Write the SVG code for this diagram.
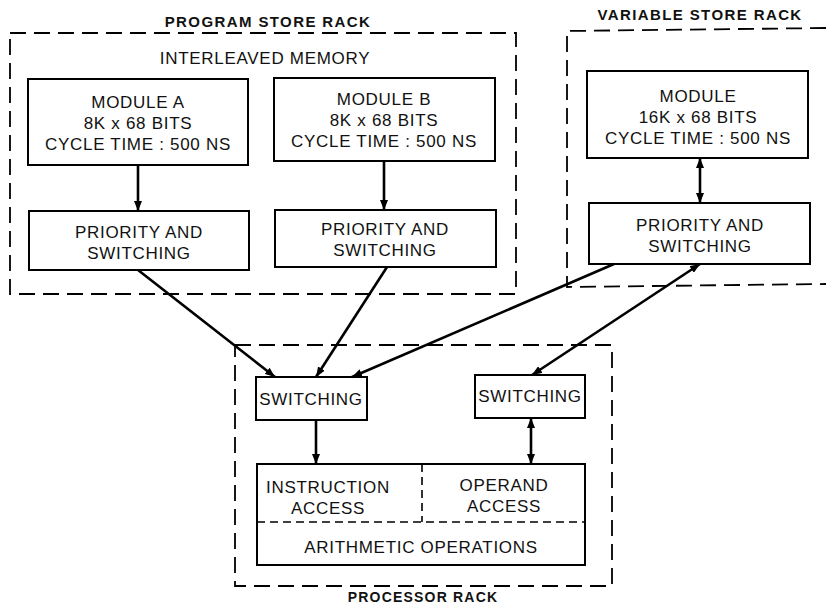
<svg xmlns="http://www.w3.org/2000/svg" width="826" height="605" viewBox="0 0 826 605">
<defs>
<marker id="ah" viewBox="0 0 10 8" refX="10" refY="4" markerWidth="10" markerHeight="8" markerUnits="userSpaceOnUse" orient="auto-start-reverse">
<path d="M0,0 L10,4 L0,8 Z" fill="#000"/>
</marker>
<style>
.rack{fill:none;stroke:#000;stroke-width:1.8;stroke-dasharray:16,8}
.box{fill:#fff;stroke:#000;stroke-width:2}
.t{font-family:"Liberation Sans",Arial,sans-serif;font-size:17px;letter-spacing:0.7px;text-anchor:middle;fill:#111}
.h{font-family:"Liberation Sans",Arial,sans-serif;font-size:15px;font-weight:bold;letter-spacing:1.4px;text-anchor:middle;fill:#111}
.c{fill:none;stroke:#000;stroke-width:2.6}
.div{fill:none;stroke:#000;stroke-width:1.6;stroke-dasharray:8,5}
</style>
</defs>
<rect width="826" height="605" fill="#fff"/>

<g id="program-store-rack">
<rect class="rack" x="10" y="33" width="506" height="261"/>
<text class="h" x="268" y="27">PROGRAM STORE RACK</text>
<text class="t" x="265" y="64">INTERLEAVED MEMORY</text>
</g>
<g id="module-a">
<rect class="box" x="28" y="79" width="220" height="86"/>
<text class="t" x="138" y="108">MODULE A</text>
<text class="t" x="138" y="129">8K x 68 BITS</text>
<text class="t" x="138" y="150">CYCLE TIME : 500 NS</text>
</g>
<g id="module-b">
<rect class="box" x="274" y="78" width="221" height="83"/>
<text class="t" x="384" y="105">MODULE B</text>
<text class="t" x="384" y="126">8K x 68 BITS</text>
<text class="t" x="384" y="147">CYCLE TIME : 500 NS</text>
</g>
<g id="priority-a">
<rect class="box" x="29" y="211" width="220" height="59"/>
<text class="t" x="139" y="238">PRIORITY AND</text>
<text class="t" x="139" y="259">SWITCHING</text>
</g>
<g id="priority-b">
<rect class="box" x="275" y="210" width="221" height="57"/>
<text class="t" x="385" y="235">PRIORITY AND</text>
<text class="t" x="385" y="256">SWITCHING</text>
</g>

<g id="variable-store-rack">
<path class="rack" d="M826,28 L567,31 L567,287 L826,284"/>
<text class="h" x="700" y="20">VARIABLE STORE RACK</text>
</g>
<g id="module-v">
<rect class="box" x="587" y="71" width="221" height="87"/>
<text class="t" x="698" y="102">MODULE</text>
<text class="t" x="698" y="123">16K x 68 BITS</text>
<text class="t" x="698" y="144">CYCLE TIME : 500 NS</text>
</g>
<g id="priority-v">
<rect class="box" x="589" y="203" width="221" height="61"/>
<text class="t" x="700" y="231">PRIORITY AND</text>
<text class="t" x="700" y="252">SWITCHING</text>
</g>

<g id="processor-rack">
<rect class="rack" x="235" y="345" width="377" height="241"/>
<text class="h" x="423" y="602" style="font-size:14px;letter-spacing:1.2px">PROCESSOR RACK</text>
</g>
<g id="switching-left">
<rect class="box" x="256" y="377" width="111" height="43"/>
<text class="t" x="311" y="405">SWITCHING</text>
</g>
<g id="switching-right">
<rect class="box" x="475" y="375" width="110" height="43"/>
<text class="t" x="530" y="402">SWITCHING</text>
</g>
<g id="processor">
<rect class="box" x="257" y="464" width="328" height="101"/>
<path class="div" d="M422,464 L422,522 M257,522 L585,522"/>
<text class="t" x="328" y="493">INSTRUCTION</text>
<text class="t" x="328" y="514">ACCESS</text>
<text class="t" x="504" y="491">OPERAND</text>
<text class="t" x="504" y="512">ACCESS</text>
<text class="t" x="421" y="553">ARITHMETIC OPERATIONS</text>
</g>

<g id="connectors">
<path class="c" d="M138,165 L138,211" marker-end="url(#ah)"/>
<path class="c" d="M384,161 L384,210" marker-end="url(#ah)"/>
<path class="c" d="M700,158 L700,203" marker-start="url(#ah)" marker-end="url(#ah)"/>
<path class="c" d="M138,270 L275,377" marker-end="url(#ah)"/>
<path class="c" d="M387,267 L316,377" marker-end="url(#ah)"/>
<path class="c" d="M614,264 L352,377" marker-end="url(#ah)"/>
<path class="c" d="M700,264 L532,375" marker-start="url(#ah)" marker-end="url(#ah)"/>
<path class="c" d="M316,420 L316,464" marker-end="url(#ah)"/>
<path class="c" d="M531,418 L531,464" marker-start="url(#ah)" marker-end="url(#ah)"/>
</g>
</svg>
